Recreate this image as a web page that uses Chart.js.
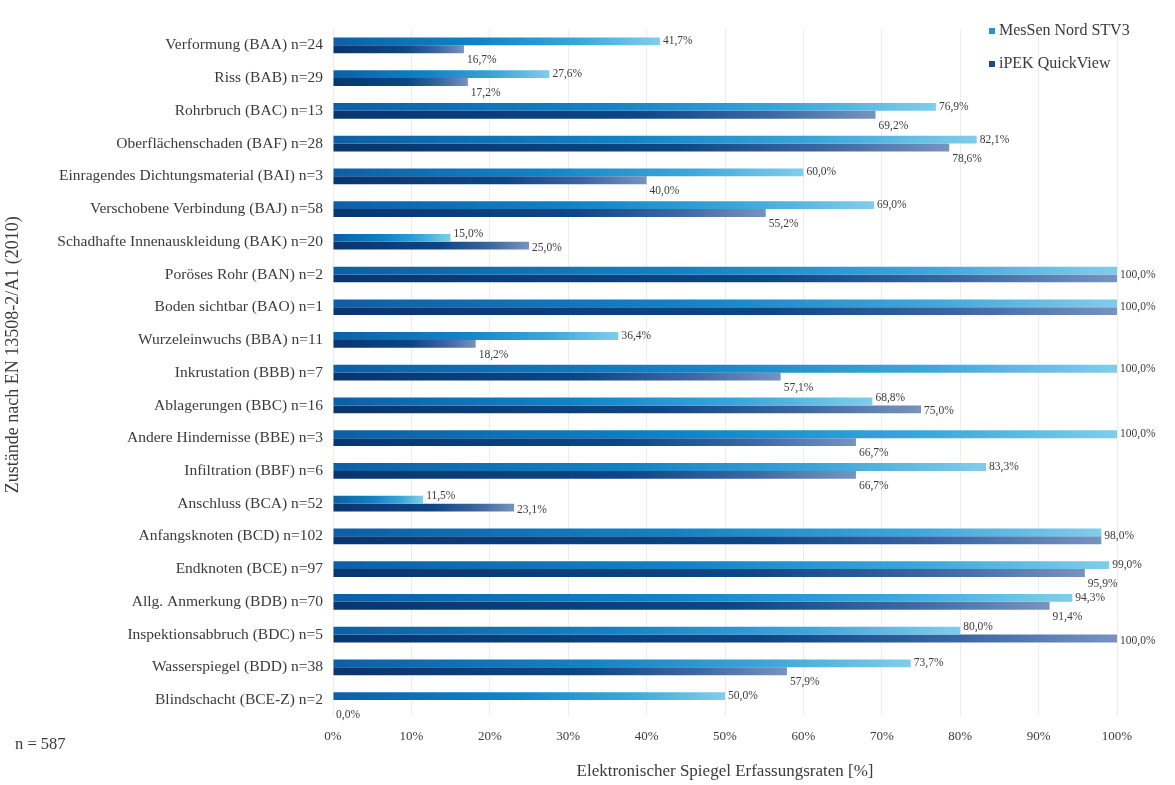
<!DOCTYPE html>
<html>
<head>
<meta charset="utf-8">
<script src="https://cdn.jsdelivr.net/npm/chart.js@4.4.0/dist/chart.umd.min.js"></script>
<style>
  html, body { margin: 0; padding: 0; background: #ffffff; }
  #wrap { position: relative; width: 1175px; height: 785px; }
</style>
</head>
<body>
<div id="wrap"><canvas id="chart" width="1175" height="785"></canvas></div>
<script>
// ---- data ----
const categories = [
  'Verformung (BAA) n=24',
  'Riss (BAB) n=29',
  'Rohrbruch (BAC) n=13',
  'Oberflächenschaden (BAF) n=28',
  'Einragendes Dichtungsmaterial (BAI) n=3',
  'Verschobene Verbindung (BAJ) n=58',
  'Schadhafte Innenauskleidung (BAK) n=20',
  'Poröses Rohr (BAN) n=2',
  'Boden sichtbar (BAO) n=1',
  'Wurzeleinwuchs (BBA) n=11',
  'Inkrustation (BBB) n=7',
  'Ablagerungen (BBC) n=16',
  'Andere Hindernisse (BBE) n=3',
  'Infiltration (BBF) n=6',
  'Anschluss (BCA) n=52',
  'Anfangsknoten (BCD) n=102',
  'Endknoten (BCE) n=97',
  'Allg. Anmerkung (BDB) n=70',
  'Inspektionsabbruch (BDC) n=5',
  'Wasserspiegel (BDD) n=38',
  'Blindschacht (BCE-Z) n=2'
];
const mesSenValues = [41.7, 27.6, 76.9, 82.1, 60.0, 69.0, 15.0, 100.0, 100.0, 36.4, 100.0, 68.8, 100.0, 83.3, 11.5, 98.0, 99.0, 94.3, 80.0, 73.7, 50.0];
const ipekValues   = [16.7, 17.2, 69.2, 78.6, 40.0, 55.2, 25.0, 100.0, 100.0, 18.2, 57.1, 75.0, 66.7, 66.7, 23.1, 98.0, 95.9, 91.4, 100.0, 57.9, 0.0];
const xTickValues = [0, 10, 20, 30, 40, 50, 60, 70, 80, 90, 100];
const xTickLabels = ['0%', '10%', '20%', '30%', '40%', '50%', '60%', '70%', '80%', '90%', '100%'];
const seriesNames = ['MesSen Nord STV3', 'iPEK QuickView'];
const yAxisTitle = 'Zustände nach EN 13508-2/A1 (2010)';
const xAxisTitle = 'Elektronischer Spiegel Erfassungsraten [%]';
const sampleNote = 'n = 587';

// ---- styles ----
const SERIF = '"Liberation Serif", "Times New Roman", serif';
const TEXT = '#3a3a3a';
const mesSenStops = [[0, '#0d5fa6'], [0.45, '#1283c6'], [0.75, '#3aa6da'], [1, '#80cdeb']];
const ipekStops   = [[0, '#0a356f'], [0.55, '#0d4585'], [0.8, '#3d66a3'], [1, '#7793bf']];
const legendColors = ['#2a93cb', '#1d4b86'];

function barGradient(context, stops) {
  const chart = context.chart;
  const xs = chart.scales && chart.scales.x;
  if (!xs || context.type !== 'data' || !chart.chartArea) return stops[1][1];
  const x0 = xs.getPixelForValue(0);
  let x1 = xs.getPixelForValue(context.raw);
  if (x1 - x0 < 1) x1 = x0 + 1;
  const g = chart.ctx.createLinearGradient(x0, 0, x1, 0);
  stops.forEach(([o, c]) => g.addColorStop(o, c));
  return g;
}

function fmt(v) { return v.toFixed(1).replace('.', ',') + '%'; }

const valueLabelPlugin = {
  id: 'valueLabels',
  afterDatasetsDraw(chart) {
    const ctx = chart.ctx;
    const m0 = chart.getDatasetMeta(0).data;
    const m1 = chart.getDatasetMeta(1).data;
    ctx.save();
    ctx.font = '11.5px ' + SERIF;
    ctx.fillStyle = TEXT;
    ctx.textAlign = 'left';
    ctx.textBaseline = 'middle';
    categories.forEach((c, i) => {
      const a = mesSenValues[i], b = ipekValues[i];
      const ea = m0[i], eb = m1[i];
      if (a === b) {
        ctx.fillText(fmt(a), Math.max(ea.x, eb.x) + 3, (ea.y + eb.y) / 2);
      } else if (a > b) {
        ctx.fillText(fmt(a), ea.x + 3, ea.y);
        ctx.fillText(fmt(b), eb.x + 3, eb.y + 11);
      } else {
        ctx.fillText(fmt(a), ea.x + 3, ea.y - 4);
        ctx.fillText(fmt(b), eb.x + 3, eb.y + 2);
      }
    });
    ctx.restore();
  }
};

const extrasPlugin = {
  id: 'extras',
  afterDraw(chart) {
    const ctx = chart.ctx;
    ctx.save();
    // legend
    ctx.font = '16px ' + SERIF;
    ctx.textBaseline = 'middle';
    ctx.textAlign = 'left';
    const ly = [31, 64];
    seriesNames.forEach((name, i) => {
      ctx.fillStyle = legendColors[i];
      ctx.fillRect(989, ly[i] - 3, 6, 6);
      ctx.fillStyle = TEXT;
      ctx.fillText(name, 999, ly[i]);
    });
    // sample note
    ctx.font = '16.5px ' + SERIF;
    ctx.fillText(sampleNote, 15, 745);
    ctx.restore();
  }
};

new Chart(document.getElementById('chart'), {
  type: 'bar',
  data: {
    labels: categories,
    datasets: [
      {
        label: seriesNames[0],
        data: mesSenValues,
        backgroundColor: (ctx) => barGradient(ctx, mesSenStops),
        borderWidth: 0,
        categoryPercentage: 0.48,
        barPercentage: 1.0
      },
      {
        label: seriesNames[1],
        data: ipekValues,
        backgroundColor: (ctx) => barGradient(ctx, ipekStops),
        borderWidth: 0,
        categoryPercentage: 0.48,
        barPercentage: 1.0
      }
    ]
  },
  options: {
    indexAxis: 'y',
    responsive: false,
    animation: false,
    events: [],
    layout: { padding: { top: 29, right: 58, left: 0, bottom: 0 } },
    plugins: {
      legend: { display: false },
      tooltip: { enabled: false },
      title: { display: false }
    },
    scales: {
      x: {
        min: 0, max: 100,
        afterBuildTicks: (s) => { s.ticks = xTickValues.map(v => ({ value: v })); },
        afterFit: (s) => { s.height = 68.6; },
        ticks: {
          callback: (v, i) => xTickLabels[i],
          font: { family: SERIF, size: 13 },
          color: TEXT,
          padding: 12,
          maxRotation: 0
        },
        grid: { color: '#ececec', lineWidth: 1, drawTicks: false },
        border: { display: false },
        title: {
          display: true,
          text: xAxisTitle,
          font: { family: SERIF, size: 17 },
          color: TEXT,
          padding: { top: 0, bottom: 3 }
        }
      },
      y: {
        afterFit: (s) => { s.width = 333; },
        ticks: {
          font: { family: SERIF, size: 15.5 },
          color: TEXT,
          padding: 10,
          autoSkip: false
        },
        grid: { display: false, drawTicks: false },
        border: { display: false },
        title: {
          display: true,
          // leading spaces lift the rotated title slightly, as in the reference
          text: '        ' + yAxisTitle,
          font: { family: SERIF, size: 18 },
          color: TEXT,
          padding: { top: 2, bottom: 0 }
        }
      }
    }
  },
  plugins: [valueLabelPlugin, extrasPlugin]
});
</script>
</body>
</html>
